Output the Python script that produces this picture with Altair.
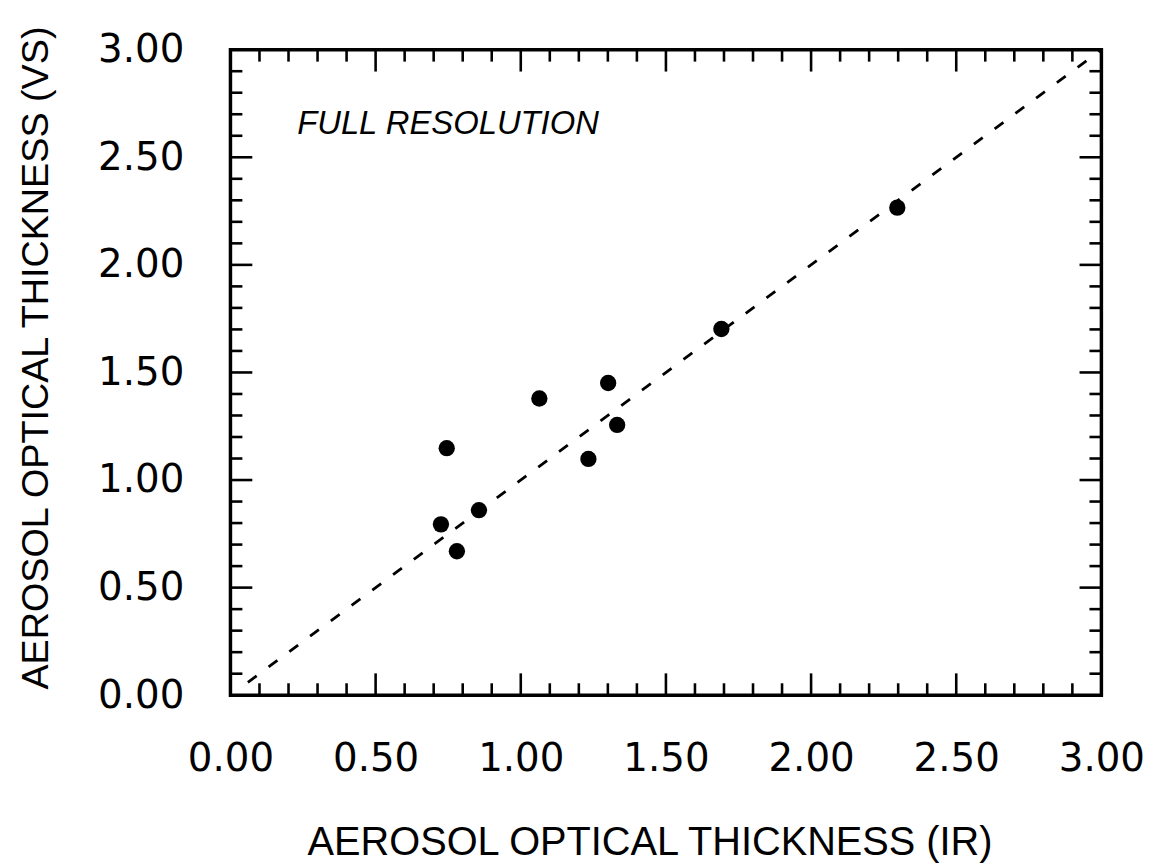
import altair as alt
import pandas as pd

# Data
ir_values = [0.745, 1.064, 1.301, 1.332, 1.233, 0.856, 0.725, 0.780, 1.691, 2.297]
vs_values = [1.148, 1.379, 1.451, 1.256, 1.098, 0.860, 0.794, 0.669, 1.702, 2.266]

axis_ticks = [0.0, 0.5, 1.0, 1.5, 2.0, 2.5, 3.0]
major_inner = [0.5, 1.0, 1.5, 2.0, 2.5]
minor_inner = [round(i * 0.1, 1) for i in range(1, 30) if i % 5]

line_x = [0.06, 3.0]
line_y = [0.06, 3.0]

note_text = ["FULL RESOLUTION"]
note_x = [0.23]
note_y = [2.61]

W, H = 877, 650
MINOR_LEN, MAJOR_LEN = 12, 22

pts = pd.DataFrame({"ir": ir_values, "vs": vs_values})
diag = pd.DataFrame({"ir": line_x, "vs": line_y})
note = pd.DataFrame({"ir": note_x, "vs": note_y, "t": note_text})
minor = pd.DataFrame({"ir": minor_inner, "vs": minor_inner})
major = pd.DataFrame({"ir": major_inner, "vs": major_inner})

xs = alt.Scale(domain=[0, 3], nice=False, zero=False)
ys = alt.Scale(domain=[0, 3], nice=False, zero=False)

x_axis = alt.Axis(
    values=axis_ticks, format=".2f", title="AEROSOL OPTICAL THICKNESS (IR)",
    grid=False, ticks=False, domain=False, labelFont="DejaVu Sans",
    labelFontSize=39, labelPadding=45, labelColor="black",
    labelFlush=False, labelOverlap=False, labelBound=False,
    titleFont="Liberation Sans", titleFontSize=40, titleFontWeight="normal",
    titleColor="black", titlePadding=44, titleX=422,
)
y_axis = alt.Axis(
    values=axis_ticks, format=".2f", title="AEROSOL OPTICAL THICKNESS (VS)",
    grid=False, ticks=False, domain=False, labelFont="DejaVu Sans",
    labelFontSize=39, labelPadding=47, labelColor="black",
    labelFlush=False, labelOverlap=False, labelBound=False,
    titleFont="Liberation Sans", titleFontSize=38, titleFontWeight="normal",
    titleColor="black", titlePadding=42, titleY=310,
)

X = alt.X("ir:Q", scale=xs, axis=x_axis)
Y = alt.Y("vs:Q", scale=ys, axis=y_axis)

points = alt.Chart(pts).mark_circle(size=270, color="black", opacity=1).encode(x=X, y=Y)

dash = alt.Chart(diag).mark_line(color="black", strokeWidth=2.8, strokeDash=[11, 15]).encode(x=X, y=Y)

label = alt.Chart(note).mark_text(
    align="left", baseline="alphabetic", font="Liberation Sans", fontSize=33,
    fontStyle="italic", color="black",
).encode(x=X, y=Y, text="t:N")


def tick_layers(df, length):
    bottom = alt.Chart(df).mark_rule(color="black", strokeWidth=2.6).encode(
        x=X, y=alt.value(H), y2=alt.value(H - length))
    top = alt.Chart(df).mark_rule(color="black", strokeWidth=2.6).encode(
        x=X, y=alt.value(0), y2=alt.value(length))
    left = alt.Chart(df).mark_rule(color="black", strokeWidth=2.6).encode(
        y=Y, x=alt.value(0), x2=alt.value(length))
    right = alt.Chart(df).mark_rule(color="black", strokeWidth=2.6).encode(
        y=Y, x=alt.value(W), x2=alt.value(W - length))
    return [bottom, top, left, right]


layers = [points] + tick_layers(minor, MINOR_LEN) + tick_layers(major, MAJOR_LEN) + [dash, label]

chart = alt.layer(*layers).properties(
    width=W, height=H,
    background="white",
    autosize=alt.AutoSizeParams(type="none"),
    padding={"left": 224, "top": 39, "right": 57, "bottom": 170},
).configure_view(stroke="black", strokeWidth=3.5)

chart.save("out.html", embed_options={"renderer": "svg", "actions": False})
